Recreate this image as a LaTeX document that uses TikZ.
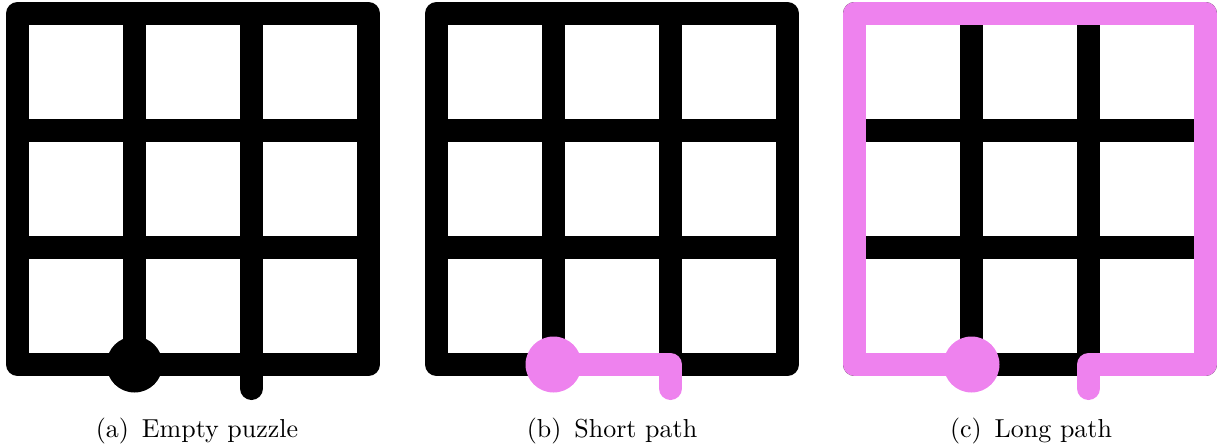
\documentclass[tikz,border=0pt]{standalone}
\definecolor{pathcol}{RGB}{238,130,238}
\tikzset{
  gridline/.style={line width=8.855pt, black, line cap=butt},
  border/.style={line width=8.855pt, black, line join=round},
  stub/.style={line width=8.855pt, black, line cap=round},
  trace/.style={line width=8.855pt, pathcol, line cap=round, line join=round},
  caption/.style={anchor=base, font=\normalsize, inner sep=0pt}
}
\newcommand{\puzzlegrid}{%
  \draw[gridline] (17.5,130.5) -- (368.5,130.5);
  \draw[gridline] (17.5,247.5) -- (368.5,247.5);
  \draw[gridline] (134.5,13.5) -- (134.5,364.5);
  \draw[gridline] (251.5,13.5) -- (251.5,364.5);
  \draw[border] (17.5,13.5) rectangle (368.5,364.5);
}
\begin{document}
\begin{tikzpicture}[x=0.385pt,y=-0.385pt]
\useasboundingbox (0,0) rectangle (1225,444);
% (a)
\begin{scope}
  \puzzlegrid
  \draw[stub] (251.5,364.5) -- (251.5,388.5);
  \fill[black] (134.5,364.5) circle[radius=28];
  \node[caption] (capa) at (197,437) {(a)\enspace Empty puzzle};
\end{scope}
% (b)
\begin{scope}[xshift=419*0.385pt]
  \puzzlegrid
  \draw[trace] (134.5,364.5) -- (251.5,364.5) -- (251.5,388.5);
  \fill[pathcol] (134.5,364.5) circle[radius=28];
  \node[caption] (capb) at (193,437) {(b)\enspace Short path};
\end{scope}
% (c)
\begin{scope}[xshift=837*0.385pt]
  \puzzlegrid
  \draw[trace] (134.5,364.5) -- (17.5,364.5) -- (17.5,13.5) -- (368.5,13.5) -- (368.5,364.5) -- (251.5,364.5) -- (251.5,388.5);
  \fill[pathcol] (134.5,364.5) circle[radius=28];
  \node[caption] (capc) at (194,437) {(c)\enspace Long path};
\end{scope}
\end{tikzpicture}
\end{document}
